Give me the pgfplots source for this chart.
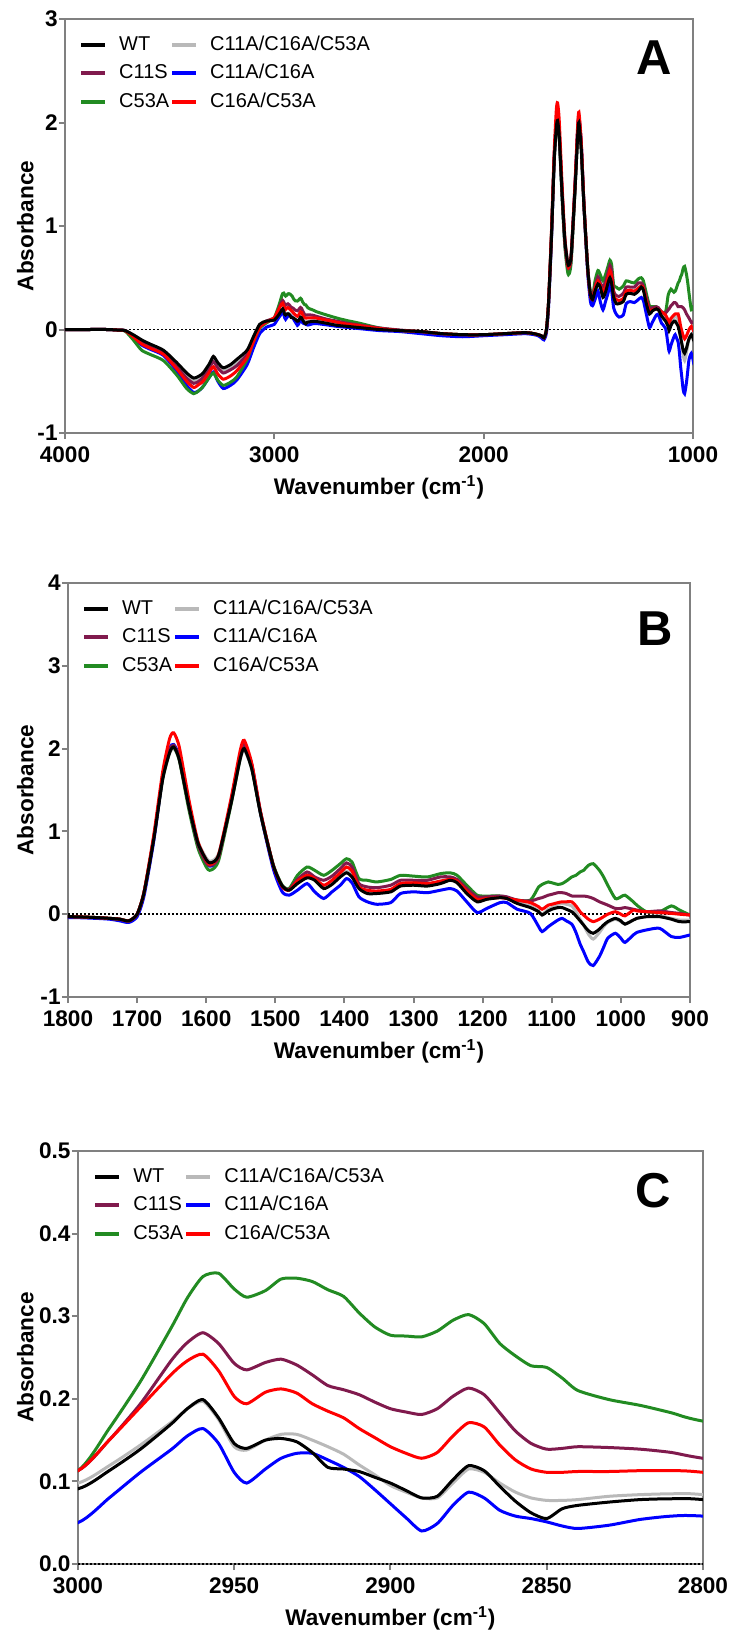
\documentclass[border=0pt]{standalone}
\usepackage{fontspec}
\setmainfont{Liberation Sans}
\usepackage{pgfplots}
\usepackage{pgfplotstable}
\pgfplotsset{compat=1.18}
\definecolor{cWT}{RGB}{0,0,0}
\definecolor{cS}{RGB}{128,26,77}
\definecolor{cG}{RGB}{34,139,34}
\definecolor{cT}{RGB}{185,185,185}
\definecolor{cD}{RGB}{0,0,255}
\definecolor{cR}{RGB}{255,0,0}

\pgfplotstableread{
x wt c11s c53a tri dbl red
4000 0 0 0 0 0 0
3900 0 0 0 0 0 0
3800 0 0 0 0 0 0
3750 -0.005 -0.005 -0.005 -0.005 -0.005 -0.005
3713 -0.01 -0.01 -0.015 -0.01 -0.012 -0.012
3674 -0.05 -0.06 -0.10 -0.06 -0.08 -0.07
3634 -0.10 -0.12 -0.20 -0.11 -0.15 -0.14
3594 -0.14 -0.17 -0.24 -0.15 -0.19 -0.18
3530 -0.20 -0.23 -0.30 -0.21 -0.25 -0.24
3466 -0.32 -0.36 -0.44 -0.34 -0.40 -0.38
3419 -0.42 -0.47 -0.57 -0.45 -0.54 -0.50
3385 -0.47 -0.52 -0.62 -0.50 -0.61 -0.56
3360 -0.45 -0.50 -0.59 -0.48 -0.59 -0.53
3340 -0.42 -0.46 -0.55 -0.45 -0.55 -0.50
3310 -0.33 -0.37 -0.46 -0.35 -0.46 -0.41
3291 -0.26 -0.31 -0.42 -0.29 -0.41 -0.36
3270 -0.32 -0.37 -0.49 -0.35 -0.50 -0.43
3244 -0.37 -0.42 -0.54 -0.40 -0.57 -0.48
3210 -0.34 -0.39 -0.51 -0.37 -0.54 -0.45
3180 -0.29 -0.35 -0.46 -0.32 -0.49 -0.40
3130 -0.20 -0.24 -0.29 -0.22 -0.34 -0.27
3100 -0.07 -0.10 -0.12 -0.08 -0.18 -0.12
3070 0.05 0.03 0.01 0.05 -0.04 0.02
3040 0.08 0.08 0.06 0.08 0.02 0.07
3020 0.085 0.095 0.085 0.09 0.035 0.09
3000 0.091 0.113 0.113 0.098 0.050 0.113
2990 0.113 0.150 0.164 0.119 0.080 0.150
2980 0.139 0.194 0.221 0.144 0.111 0.190
2970 0.170 0.247 0.287 0.172 0.139 0.230
2965 0.188 0.268 0.322 0.188 0.155 0.246
2960 0.199 0.280 0.348 0.197 0.164 0.254
2955 0.177 0.267 0.352 0.175 0.146 0.234
2950 0.146 0.243 0.333 0.142 0.111 0.203
2946 0.140 0.235 0.323 0.138 0.098 0.194
2940 0.150 0.244 0.331 0.150 0.115 0.208
2935 0.152 0.248 0.345 0.157 0.128 0.212
2930 0.148 0.241 0.346 0.157 0.134 0.207
2925 0.135 0.229 0.342 0.150 0.134 0.194
2920 0.117 0.216 0.332 0.142 0.126 0.185
2915 0.115 0.211 0.324 0.133 0.117 0.177
2910 0.112 0.205 0.304 0.120 0.106 0.164
2905 0.105 0.196 0.287 0.108 0.090 0.153
2900 0.098 0.188 0.277 0.095 0.073 0.142
2895 0.089 0.184 0.276 0.087 0.056 0.134
2890 0.080 0.181 0.275 0.080 0.040 0.128
2885 0.082 0.188 0.282 0.080 0.049 0.135
2880 0.102 0.203 0.295 0.098 0.071 0.155
2875 0.119 0.213 0.302 0.115 0.087 0.171
2870 0.113 0.205 0.291 0.111 0.080 0.166
2865 0.094 0.183 0.267 0.098 0.065 0.144
2860 0.076 0.161 0.252 0.087 0.058 0.126
2855 0.062 0.146 0.240 0.080 0.055 0.115
2850 0.055 0.139 0.238 0.077 0.051 0.111
2845 0.067 0.140 0.225 0.077 0.046 0.111
2840 0.071 0.142 0.210 0.078 0.043 0.112
2830 0.075 0.141 0.199 0.082 0.047 0.112
2820 0.078 0.139 0.192 0.084 0.054 0.113
2810 0.079 0.135 0.183 0.085 0.058 0.113
2800 0.078 0.128 0.173 0.084 0.058 0.111
2750 0.06 0.10 0.14 0.065 0.045 0.09
2700 0.04 0.08 0.11 0.05 0.03 0.07
2650 0.03 0.06 0.085 0.035 0.02 0.05
2600 0.02 0.045 0.064 0.025 0.01 0.04
2500 0.0 0.015 0.016 0.005 -0.01 0.01
2400 -0.01 -0.005 -0.01 -0.01 -0.02 -0.01
2300 -0.02 -0.02 -0.02 -0.02 -0.04 -0.02
2200 -0.04 -0.04 -0.04 -0.04 -0.06 -0.04
2100 -0.05 -0.05 -0.05 -0.05 -0.07 -0.05
2000 -0.05 -0.05 -0.05 -0.05 -0.06 -0.05
1900 -0.04 -0.04 -0.04 -0.04 -0.05 -0.04
1800 -0.03 -0.03 -0.03 -0.03 -0.04 -0.03
1760 -0.04 -0.04 -0.04 -0.04 -0.05 -0.04
1740 -0.05 -0.05 -0.05 -0.05 -0.06 -0.05
1725 -0.06 -0.06 -0.06 -0.06 -0.08 -0.06
1712 -0.08 -0.08 -0.08 -0.08 -0.10 -0.08
1700 0.0 0.0 0.0 0.0 -0.03 0.0
1690 0.26 0.26 0.26 0.26 0.22 0.27
1676 0.90 0.92 0.92 0.90 0.88 0.95
1663 1.63 1.66 1.64 1.62 1.66 1.72
1653 1.95 1.98 1.96 1.94 2.00 2.12
1647 2.02 2.04 2.02 2.00 2.05 2.19
1639 1.87 1.88 1.86 1.86 1.90 2.02
1625 1.30 1.30 1.26 1.32 1.30 1.38
1612 0.86 0.84 0.80 0.88 0.83 0.88
1600 0.66 0.62 0.57 0.68 0.62 0.65
1595 0.62 0.59 0.53 0.64 0.58 0.60
1588 0.64 0.61 0.56 0.66 0.60 0.63
1581 0.74 0.72 0.68 0.76 0.72 0.75
1564 1.34 1.36 1.33 1.34 1.37 1.40
1551 1.87 1.92 1.88 1.86 1.93 1.97
1545 2.00 2.06 2.02 1.98 2.05 2.10
1534 1.75 1.80 1.76 1.75 1.80 1.82
1521 1.20 1.22 1.20 1.20 1.20 1.22
1503 0.59 0.59 0.60 0.59 0.55 0.59
1490 0.34 0.34 0.35 0.34 0.27 0.33
1480 0.29 0.30 0.31 0.30 0.23 0.29
1468 0.37 0.42 0.47 0.38 0.29 0.40
1454 0.44 0.51 0.57 0.46 0.37 0.47
1443 0.41 0.45 0.53 0.42 0.27 0.43
1430 0.31 0.41 0.47 0.33 0.19 0.35
1418 0.36 0.46 0.53 0.38 0.27 0.41
1406 0.45 0.55 0.61 0.47 0.35 0.50
1397 0.50 0.62 0.67 0.52 0.43 0.57
1389 0.45 0.57 0.63 0.47 0.38 0.52
1379 0.31 0.37 0.43 0.32 0.21 0.33
1367 0.25 0.33 0.41 0.27 0.15 0.29
1353 0.25 0.32 0.39 0.27 0.12 0.28
1333 0.27 0.35 0.42 0.29 0.14 0.30
1319 0.34 0.41 0.47 0.35 0.25 0.37
1300 0.35 0.41 0.46 0.37 0.27 0.38
1280 0.34 0.41 0.45 0.36 0.26 0.37
1261 0.37 0.45 0.49 0.40 0.29 0.40
1247 0.41 0.45 0.50 0.43 0.31 0.42
1237 0.38 0.42 0.47 0.40 0.28 0.40
1223 0.25 0.31 0.35 0.27 0.15 0.28
1208 0.15 0.21 0.23 0.17 0.02 0.18
1194 0.18 0.21 0.22 0.19 0.07 0.19
1175 0.20 0.22 0.22 0.21 0.14 0.20
1165 0.19 0.21 0.20 0.19 0.14 0.19
1150 0.13 0.17 0.17 0.14 0.06 0.17
1131 0.08 0.16 0.17 0.10 0.01 0.14
1119 0.03 0.19 0.33 0.04 -0.15 0.09
1114 -0.01 0.20 0.36 0.00 -0.21 0.06
1105 0.04 0.23 0.39 0.06 -0.15 0.11
1100 0.06 0.24 0.38 0.08 -0.12 0.12
1091 0.08 0.26 0.36 0.12 -0.07 0.14
1085 0.08 0.26 0.37 0.13 -0.05 0.15
1079 0.06 0.25 0.40 0.12 -0.08 0.15
1071 0.03 0.22 0.45 0.10 -0.12 0.15
1065 -0.02 0.22 0.47 0.03 -0.22 0.10
1059 -0.08 0.22 0.51 -0.06 -0.36 0.03
1054 -0.13 0.22 0.53 -0.13 -0.45 -0.01
1047 -0.20 0.21 0.59 -0.24 -0.58 -0.06
1040 -0.23 0.19 0.61 -0.30 -0.62 -0.09
1031 -0.18 0.15 0.53 -0.22 -0.51 -0.06
1025 -0.13 0.13 0.45 -0.15 -0.40 -0.03
1019 -0.09 0.11 0.35 -0.10 -0.29 0.00
1008 -0.05 0.07 0.19 -0.06 -0.23 0.03
1000 -0.08 0.07 0.21 -0.09 -0.29 0.00
994 -0.12 0.08 0.23 -0.12 -0.34 -0.02
982 -0.07 0.06 0.15 -0.07 -0.25 0.05
977 -0.05 0.05 0.11 -0.05 -0.22 0.04
963 -0.03 0.03 0.03 -0.03 -0.19 0.03
944 -0.03 0.04 0.03 -0.02 -0.17 0.02
927 -0.06 0.02 0.10 -0.05 -0.27 0.01
915 -0.09 0.01 0.05 -0.07 -0.28 0.00
900 -0.09 -0.01 -0.01 -0.07 -0.25 -0.01
}\spec

\tikzset{letter/.style={font=\fontsize{24.5}{28}\selectfont\bfseries}}
\newcommand{\labfont}{\fontsize{11.3}{13}\selectfont\bfseries}
\pgfplotsset{
 panel/.style={
  scale only axis, x dir=reverse,
  axis line style={black!50, line width=1pt},
  every tick/.style={black!50, line width=1pt},
  major tick length=3pt, tick align=outside, tick pos=left,
  /pgf/number format/assume math mode=true,
  /pgf/number format/1000 sep={},
  tick label style={font=\labfont},
  xticklabel style={inner sep=0pt, yshift=-3.5pt},
  yticklabel style={inner sep=0pt, xshift=-0.5pt},
  xlabel={Wavenumber (cm\textsuperscript{-1})},
  ylabel={Absorbance},
  every axis x label/.style={at={(axis description cs:0.5,0)}, anchor=north, inner sep=0pt, yshift=-21pt, font=\labfont},
  legend columns=2,
  legend cell align=left,
  legend style={draw=none, fill=none, inner sep=0pt, anchor=north west,
    font=\fontsize{10}{11}\selectfont, row sep=5.5pt, nodes={inner sep=0pt},
    /tikz/every odd column/.append style={column sep=6pt},
    /tikz/every even column/.append style={column sep=0.5pt}},
  legend image code/.code={\draw[#1, line width=2pt] (0pt,0pt) -- (12pt,0pt);},
 },
 ylab/.style={every axis y label/.style={at={(axis description cs:0,0.5)}, rotate=90, anchor=south, inner sep=0pt, yshift=#1, font=\labfont}},
 zero/.style={black, line width=0.8pt, dash pattern=on 1pt off 1pt, forget plot},
 crv/.style={line width=1.5pt, smooth, tension=0.4, forget plot},
}

\newcommand{\legendentries}{%
\addlegendimage{cWT}\addlegendentry{WT}
\addlegendimage{cT}\addlegendentry{C11A/C16A/C53A}
\addlegendimage{cS}\addlegendentry{C11S}
\addlegendimage{cD}\addlegendentry{C11A/C16A}
\addlegendimage{cG}\addlegendentry{C53A}
\addlegendimage{cR}\addlegendentry{C16A/C53A}
}
\newcommand{\curves}{%
\addplot[crv, cT] table[x=x, y=tri] {\spec};
\addplot[crv, cD] table[x=x, y=dbl] {\spec};
\addplot[crv, cG] table[x=x, y=c53a] {\spec};
\addplot[crv, cS] table[x=x, y=c11s] {\spec};
\addplot[crv, cR] table[x=x, y=red] {\spec};
\addplot[crv, cWT] table[x=x, y=wt] {\spec};
}

\begin{document}
\begin{tikzpicture}
\path[use as bounding box] (0pt,0pt) rectangle (365.5pt,-816pt);

% Panel A
\begin{axis}[panel, ylab=15.5pt, at={(32.5pt,-216.5pt)}, anchor=south west, width=314pt, height=207pt,
  xmin=1000, xmax=4000, ymin=-1, ymax=3,
  xtick={1000,2000,3000,4000}, ytick={-1,0,1,2,3},
  legend style={at={(axis description cs:0.022,0.96)}}]
\legendentries
\addplot[zero] coordinates {(4000,0) (1000,0)};
\curves
\node[letter] at (axis description cs:0.939,0.906) {A};
\end{axis}

% Panel B
\begin{axis}[panel, ylab=17pt, at={(34pt,-498.5pt)}, anchor=south west, width=311pt, height=207pt,
  xmin=900, xmax=1800, ymin=-1, ymax=4,
  xtick={900,1000,...,1800}, ytick={-1,0,...,4},
  legend style={at={(axis description cs:0.022,0.96)}}]
\legendentries
\addplot[zero] coordinates {(1800,0) (900,0)};
\curves
\node[letter] at (axis description cs:0.944,0.891) {B};
\end{axis}

% Panel C
\begin{axis}[panel, ylab=22pt, at={(39pt,-782pt)}, anchor=south west, width=312.5pt, height=206.5pt,
  xmin=2800, xmax=3000, ymin=0, ymax=0.5,
  xtick={2800,2850,...,3000}, ytick={0,0.1,...,0.5},
  yticklabel style={/pgf/number format/fixed, /pgf/number format/fixed zerofill, /pgf/number format/precision=1},
  legend style={at={(axis description cs:0.024,0.96)}}]
\legendentries
\addplot[zero] coordinates {(3000,0) (2800,0)};
\curves
\node[letter] at (axis description cs:0.92,0.904) {C};
\end{axis}
\end{tikzpicture}
\end{document}
